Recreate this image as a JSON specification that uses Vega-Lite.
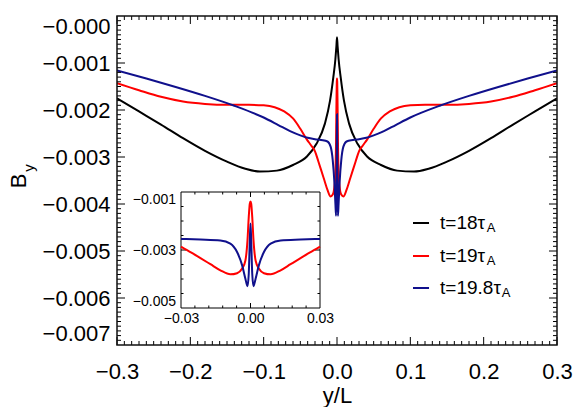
{
  "$schema": "https://vega.github.io/schema/vega-lite/v6.json",
  "width": 440,
  "height": 329,
  "autosize": "none",
  "padding": {"left": 117, "top": 16, "right": 24, "bottom": 62},
  "background": "white",
  "config": {
    "view": {"stroke": null},
    "font": "Liberation Sans",
    "axis": {"grid": false, "domain": false, "ticks": false, "tickSize": 0, "labelColor": "black", "titleColor": "black", "labelFont": "Liberation Sans", "titleFont": "Liberation Sans", "titleFontWeight": "normal", "labelOverlap": false}
  },
  "datasets": {
    "curves": [
      {"s": "18", "x": -0.3, "y": -0.00175}, {"s": "18", "x": -0.27, "y": -0.00203}, {"s": "18", "x": -0.24, "y": -0.00231}, {"s": "18", "x": -0.21, "y": -0.0026}, {"s": "18", "x": -0.18, "y": -0.00287}, {"s": "18", "x": -0.15, "y": -0.0031}, {"s": "18", "x": -0.125, "y": -0.00325}, {"s": "18", "x": -0.105, "y": -0.00331}, {"s": "18", "x": -0.082, "y": -0.00329}, {"s": "18", "x": -0.06, "y": -0.00317}, {"s": "18", "x": -0.041, "y": -0.00299}, {"s": "18", "x": -0.028, "y": -0.00272}, {"s": "18", "x": -0.0165, "y": -0.00229}, {"s": "18", "x": -0.0095, "y": -0.0018}, {"s": "18", "x": -0.005, "y": -0.0013}, {"s": "18", "x": -0.0022, "y": -0.00092}, {"s": "18", "x": -0.0008, "y": -0.00064}, {"s": "18", "x": 0, "y": -0.00045},
      {"s": "18", "x": 0.0008, "y": -0.00064}, {"s": "18", "x": 0.0022, "y": -0.00092}, {"s": "18", "x": 0.005, "y": -0.0013}, {"s": "18", "x": 0.0095, "y": -0.0018}, {"s": "18", "x": 0.0165, "y": -0.00229}, {"s": "18", "x": 0.028, "y": -0.00272}, {"s": "18", "x": 0.041, "y": -0.00299}, {"s": "18", "x": 0.06, "y": -0.00317}, {"s": "18", "x": 0.082, "y": -0.00329}, {"s": "18", "x": 0.105, "y": -0.00331}, {"s": "18", "x": 0.125, "y": -0.00325}, {"s": "18", "x": 0.15, "y": -0.0031}, {"s": "18", "x": 0.18, "y": -0.00287}, {"s": "18", "x": 0.21, "y": -0.0026}, {"s": "18", "x": 0.24, "y": -0.00231}, {"s": "18", "x": 0.27, "y": -0.00203}, {"s": "18", "x": 0.3, "y": -0.00175},
      {"s": "19", "x": -0.3, "y": -0.00143}, {"s": "19", "x": -0.27, "y": -0.00158}, {"s": "19", "x": -0.24, "y": -0.00172}, {"s": "19", "x": -0.21, "y": -0.00182}, {"s": "19", "x": -0.18, "y": -0.00187}, {"s": "19", "x": -0.15, "y": -0.00189}, {"s": "19", "x": -0.12, "y": -0.00189}, {"s": "19", "x": -0.1, "y": -0.0019}, {"s": "19", "x": -0.085, "y": -0.00194}, {"s": "19", "x": -0.072, "y": -0.00203}, {"s": "19", "x": -0.06, "y": -0.00218}, {"s": "19", "x": -0.05, "y": -0.0024}, {"s": "19", "x": -0.041, "y": -0.00263}, {"s": "19", "x": -0.035, "y": -0.00276}, {"s": "19", "x": -0.03, "y": -0.00288}, {"s": "19", "x": -0.0255, "y": -0.00309}, {"s": "19", "x": -0.0216, "y": -0.00328}, {"s": "19", "x": -0.0173, "y": -0.00349}, {"s": "19", "x": -0.013, "y": -0.0037}, {"s": "19", "x": -0.0087, "y": -0.00384}, {"s": "19", "x": -0.0058, "y": -0.0038}, {"s": "19", "x": -0.0036, "y": -0.00364}, {"s": "19", "x": -0.0022, "y": -0.00336}, {"s": "19", "x": -0.0013, "y": -0.00267}, {"s": "19", "x": -0.00075, "y": -0.00186}, {"s": "19", "x": -0.0003, "y": -0.0014}, {"s": "19", "x": 0, "y": -0.00133},
      {"s": "19", "x": 0.0003, "y": -0.0014}, {"s": "19", "x": 0.00075, "y": -0.00186}, {"s": "19", "x": 0.0013, "y": -0.00267}, {"s": "19", "x": 0.0022, "y": -0.00336}, {"s": "19", "x": 0.0036, "y": -0.00364}, {"s": "19", "x": 0.0058, "y": -0.0038}, {"s": "19", "x": 0.0087, "y": -0.00384}, {"s": "19", "x": 0.013, "y": -0.0037}, {"s": "19", "x": 0.0173, "y": -0.00349}, {"s": "19", "x": 0.0216, "y": -0.00328}, {"s": "19", "x": 0.0255, "y": -0.00309}, {"s": "19", "x": 0.03, "y": -0.00288}, {"s": "19", "x": 0.035, "y": -0.00276}, {"s": "19", "x": 0.041, "y": -0.00263}, {"s": "19", "x": 0.05, "y": -0.0024}, {"s": "19", "x": 0.06, "y": -0.00218}, {"s": "19", "x": 0.072, "y": -0.00203}, {"s": "19", "x": 0.085, "y": -0.00194}, {"s": "19", "x": 0.1, "y": -0.0019}, {"s": "19", "x": 0.12, "y": -0.00189}, {"s": "19", "x": 0.15, "y": -0.00189}, {"s": "19", "x": 0.18, "y": -0.00187}, {"s": "19", "x": 0.21, "y": -0.00182}, {"s": "19", "x": 0.24, "y": -0.00172}, {"s": "19", "x": 0.27, "y": -0.00158}, {"s": "19", "x": 0.3, "y": -0.00143},
      {"s": "19.8", "x": -0.3, "y": -0.00116}, {"s": "19.8", "x": -0.26, "y": -0.00133}, {"s": "19.8", "x": -0.22, "y": -0.00151}, {"s": "19.8", "x": -0.18, "y": -0.0017}, {"s": "19.8", "x": -0.14, "y": -0.00191}, {"s": "19.8", "x": -0.1, "y": -0.00216}, {"s": "19.8", "x": -0.08, "y": -0.00232}, {"s": "19.8", "x": -0.064, "y": -0.00245}, {"s": "19.8", "x": -0.05, "y": -0.00254}, {"s": "19.8", "x": -0.04, "y": -0.00259}, {"s": "19.8", "x": -0.03, "y": -0.00262}, {"s": "19.8", "x": -0.0216, "y": -0.00264}, {"s": "19.8", "x": -0.013, "y": -0.00267}, {"s": "19.8", "x": -0.0087, "y": -0.00278}, {"s": "19.8", "x": -0.0058, "y": -0.00307}, {"s": "19.8", "x": -0.0036, "y": -0.00353}, {"s": "19.8", "x": -0.0022, "y": -0.00399}, {"s": "19.8", "x": -0.0013, "y": -0.00425}, {"s": "19.8", "x": -0.00075, "y": -0.00382}, {"s": "19.8", "x": -0.0003, "y": -0.00267}, {"s": "19.8", "x": 0, "y": -0.00209},
      {"s": "19.8", "x": 0.0003, "y": -0.00267}, {"s": "19.8", "x": 0.00075, "y": -0.00382}, {"s": "19.8", "x": 0.0013, "y": -0.00425}, {"s": "19.8", "x": 0.0022, "y": -0.00399}, {"s": "19.8", "x": 0.0036, "y": -0.00353}, {"s": "19.8", "x": 0.0058, "y": -0.00307}, {"s": "19.8", "x": 0.0087, "y": -0.00278}, {"s": "19.8", "x": 0.013, "y": -0.00267}, {"s": "19.8", "x": 0.0216, "y": -0.00264}, {"s": "19.8", "x": 0.03, "y": -0.00262}, {"s": "19.8", "x": 0.04, "y": -0.00259}, {"s": "19.8", "x": 0.05, "y": -0.00254}, {"s": "19.8", "x": 0.064, "y": -0.00245}, {"s": "19.8", "x": 0.08, "y": -0.00232}, {"s": "19.8", "x": 0.1, "y": -0.00216}, {"s": "19.8", "x": 0.14, "y": -0.00191}, {"s": "19.8", "x": 0.18, "y": -0.0017}, {"s": "19.8", "x": 0.22, "y": -0.00151}, {"s": "19.8", "x": 0.26, "y": -0.00133}, {"s": "19.8", "x": 0.3, "y": -0.00116}
    ],
    "legend": [
      {"s": "18", "label": "t=18τ", "x": 0.1036, "x2": 0.1255, "tx": 0.1405, "y": -0.004404, "sx": 0.2041, "sy": -0.004518},
      {"s": "19", "label": "t=19τ", "x": 0.1036, "x2": 0.1255, "tx": 0.1405, "y": -0.005106, "sx": 0.2041, "sy": -0.00522},
      {"s": "19.8", "label": "t=19.8τ", "x": 0.1036, "x2": 0.1255, "tx": 0.1405, "y": -0.005787, "sx": 0.2246, "sy": -0.0059}
    ],
    "ysub": [{"t": "y", "x": -0.42, "y": -0.003234}],
    "mainframe": [{"x": -0.3, "x2": 0.3, "y": -0.007, "y2": 0}],
    "frame": [{"x": -0.03, "x2": 0.03, "y": -0.005, "y2": -0.001}],
    "xmaj": [{"v": -0.3}, {"v": -0.2}, {"v": -0.1}, {"v": 0}, {"v": 0.1}, {"v": 0.2}, {"v": 0.3}],
    "xmin": [{"v": -0.29}, {"v": -0.28}, {"v": -0.27}, {"v": -0.26}, {"v": -0.25}, {"v": -0.24}, {"v": -0.23}, {"v": -0.22}, {"v": -0.21}, {"v": -0.19}, {"v": -0.18}, {"v": -0.17}, {"v": -0.16}, {"v": -0.15}, {"v": -0.14}, {"v": -0.13}, {"v": -0.12}, {"v": -0.11}, {"v": -0.09}, {"v": -0.08}, {"v": -0.07}, {"v": -0.06}, {"v": -0.05}, {"v": -0.04}, {"v": -0.03}, {"v": -0.02}, {"v": -0.01}, {"v": 0.01}, {"v": 0.02}, {"v": 0.03}, {"v": 0.04}, {"v": 0.05}, {"v": 0.06}, {"v": 0.07}, {"v": 0.08}, {"v": 0.09}, {"v": 0.11}, {"v": 0.12}, {"v": 0.13}, {"v": 0.14}, {"v": 0.15}, {"v": 0.16}, {"v": 0.17}, {"v": 0.18}, {"v": 0.19}, {"v": 0.21}, {"v": 0.22}, {"v": 0.23}, {"v": 0.24}, {"v": 0.25}, {"v": 0.26}, {"v": 0.27}, {"v": 0.28}, {"v": 0.29}],
    "ymaj": [{"v": -0.006}, {"v": -0.005}, {"v": -0.004}, {"v": -0.003}, {"v": -0.002}, {"v": -0.001}],
    "ymin": [{"v": -0.0069}, {"v": -0.0068}, {"v": -0.0067}, {"v": -0.0066}, {"v": -0.0065}, {"v": -0.0064}, {"v": -0.0063}, {"v": -0.0062}, {"v": -0.0061}, {"v": -0.0059}, {"v": -0.0058}, {"v": -0.0057}, {"v": -0.0056}, {"v": -0.0055}, {"v": -0.0054}, {"v": -0.0053}, {"v": -0.0052}, {"v": -0.0051}, {"v": -0.0049}, {"v": -0.0048}, {"v": -0.0047}, {"v": -0.0046}, {"v": -0.0045}, {"v": -0.0044}, {"v": -0.0043}, {"v": -0.0042}, {"v": -0.0041}, {"v": -0.0039}, {"v": -0.0038}, {"v": -0.0037}, {"v": -0.0036}, {"v": -0.0035}, {"v": -0.0034}, {"v": -0.0033}, {"v": -0.0032}, {"v": -0.0031}, {"v": -0.0029}, {"v": -0.0028}, {"v": -0.0027}, {"v": -0.0026}, {"v": -0.0025}, {"v": -0.0024}, {"v": -0.0023}, {"v": -0.0022}, {"v": -0.0021}, {"v": -0.0019}, {"v": -0.0018}, {"v": -0.0017}, {"v": -0.0016}, {"v": -0.0015}, {"v": -0.0014}, {"v": -0.0013}, {"v": -0.0012}, {"v": -0.0011}, {"v": -0.0009}, {"v": -0.0008}, {"v": -0.0007}, {"v": -0.0006}, {"v": -0.0005}, {"v": -0.0004}, {"v": -0.0003}, {"v": -0.0002}, {"v": -0.0001}],
    "ixmaj": [{"v": 0}],
    "ixmin": [{"v": -0.024}, {"v": -0.018}, {"v": -0.012}, {"v": -0.006}, {"v": 0.006}, {"v": 0.012}, {"v": 0.018}, {"v": 0.024}],
    "iymaj": [{"v": -0.003}],
    "iymin": [{"v": -0.0045}, {"v": -0.004}, {"v": -0.0035}, {"v": -0.0025}, {"v": -0.002}, {"v": -0.0015}]
  },
  "layer": [
    {
      "data": {"name": "curves"},
      "mark": {"type": "line", "interpolate": "monotone", "clip": true},
      "encoding": {
        "x": {"field": "x", "type": "quantitative", "scale": {"domain": [-0.3, 0.3], "nice": false, "zero": false},
          "axis": {"orient": "bottom", "title": "y/L", "titleFontSize": 22, "titlePadding": 3, "labelFontSize": 22, "labelPadding": 16, "labelFlush": false,
            "values": [-0.3, -0.2, -0.1, 0, 0.1, 0.2, 0.3], "format": ".1f"}},
        "y": {"field": "y", "type": "quantitative", "scale": {"domain": [-0.007, 0], "nice": false, "zero": false},
          "axis": {"orient": "left", "title": "B", "titleFontSize": 22, "titlePadding": 12, "labelFontSize": 22, "labelPadding": 7, "labelFlush": true,
            "values": [-0.007, -0.006, -0.005, -0.004, -0.003, -0.002, -0.001, 0],
            "labelExpr": "datum.value == 0 ? '−0.000' : format(datum.value, '.3f')"}},
        "color": {"field": "s", "type": "nominal", "scale": {"domain": ["18", "19", "19.8"], "range": ["#000000", "#ff0000", "#10108c"]}, "legend": null},
        "strokeWidth": {"field": "s", "type": "nominal", "scale": {"domain": ["18", "19", "19.8"], "range": [2, 2, 1.5]}, "legend": null}
      }
    },
    {
      "data": {"name": "xmaj"},
      "mark": {"type": "rule", "color": "black", "strokeWidth": 1},
      "encoding": {
        "x": {"field": "v", "type": "quantitative", "scale": {"domain": [-0.3, 0.3], "nice": false, "zero": false}, "axis": null},
        "y": {"datum": -0.007, "type": "quantitative", "scale": {"domain": [-0.007, 0], "nice": false, "zero": false}, "axis": null},
        "y2": {"datum": -0.00683}
      }
    },
    {
      "data": {"name": "xmaj"},
      "mark": {"type": "rule", "color": "black", "strokeWidth": 1},
      "encoding": {
        "x": {"field": "v", "type": "quantitative", "scale": {"domain": [-0.3, 0.3], "nice": false, "zero": false}, "axis": null},
        "y": {"datum": 0, "type": "quantitative", "scale": {"domain": [-0.007, 0], "nice": false, "zero": false}, "axis": null},
        "y2": {"datum": -0.00017}
      }
    },
    {
      "data": {"name": "xmin"},
      "mark": {"type": "rule", "color": "black", "strokeWidth": 1},
      "encoding": {
        "x": {"field": "v", "type": "quantitative", "scale": {"domain": [-0.3, 0.3], "nice": false, "zero": false}, "axis": null},
        "y": {"datum": -0.007, "type": "quantitative", "scale": {"domain": [-0.007, 0], "nice": false, "zero": false}, "axis": null},
        "y2": {"datum": -0.006915}
      }
    },
    {
      "data": {"name": "xmin"},
      "mark": {"type": "rule", "color": "black", "strokeWidth": 1},
      "encoding": {
        "x": {"field": "v", "type": "quantitative", "scale": {"domain": [-0.3, 0.3], "nice": false, "zero": false}, "axis": null},
        "y": {"datum": 0, "type": "quantitative", "scale": {"domain": [-0.007, 0], "nice": false, "zero": false}, "axis": null},
        "y2": {"datum": -0.000085}
      }
    },
    {
      "data": {"name": "ymaj"},
      "mark": {"type": "rule", "color": "black", "strokeWidth": 1},
      "encoding": {
        "y": {"field": "v", "type": "quantitative", "scale": {"domain": [-0.007, 0], "nice": false, "zero": false}, "axis": null},
        "x": {"datum": -0.3, "type": "quantitative", "scale": {"domain": [-0.3, 0.3], "nice": false, "zero": false}, "axis": null},
        "x2": {"datum": -0.28909}
      }
    },
    {
      "data": {"name": "ymaj"},
      "mark": {"type": "rule", "color": "black", "strokeWidth": 1},
      "encoding": {
        "y": {"field": "v", "type": "quantitative", "scale": {"domain": [-0.007, 0], "nice": false, "zero": false}, "axis": null},
        "x": {"datum": 0.3, "type": "quantitative", "scale": {"domain": [-0.3, 0.3], "nice": false, "zero": false}, "axis": null},
        "x2": {"datum": 0.28909}
      }
    },
    {
      "data": {"name": "ymin"},
      "mark": {"type": "rule", "color": "black", "strokeWidth": 1},
      "encoding": {
        "y": {"field": "v", "type": "quantitative", "scale": {"domain": [-0.007, 0], "nice": false, "zero": false}, "axis": null},
        "x": {"datum": -0.3, "type": "quantitative", "scale": {"domain": [-0.3, 0.3], "nice": false, "zero": false}, "axis": null},
        "x2": {"datum": -0.294545}
      }
    },
    {
      "data": {"name": "ymin"},
      "mark": {"type": "rule", "color": "black", "strokeWidth": 1},
      "encoding": {
        "y": {"field": "v", "type": "quantitative", "scale": {"domain": [-0.007, 0], "nice": false, "zero": false}, "axis": null},
        "x": {"datum": 0.3, "type": "quantitative", "scale": {"domain": [-0.3, 0.3], "nice": false, "zero": false}, "axis": null},
        "x2": {"datum": 0.294545}
      }
    },
    {
      "data": {"name": "legend"},
      "mark": {"type": "rule"},
      "encoding": {
        "x": {"field": "x", "type": "quantitative", "scale": {"domain": [-0.3, 0.3], "nice": false, "zero": false}, "axis": null},
        "x2": {"field": "x2"},
        "y": {"field": "y", "type": "quantitative", "scale": {"domain": [-0.007, 0], "nice": false, "zero": false}, "axis": null},
        "color": {"field": "s", "type": "nominal", "scale": {"domain": ["18", "19", "19.8"], "range": ["#000000", "#ff0000", "#10108c"]}, "legend": null},
        "strokeWidth": {"field": "s", "type": "nominal", "scale": {"domain": ["18", "19", "19.8"], "range": [2, 2, 1.5]}, "legend": null}
      }
    },
    {
      "data": {"name": "legend"},
      "mark": {"type": "text", "align": "left", "baseline": "middle", "fontSize": 19, "font": "Liberation Sans", "color": "black"},
      "encoding": {
        "x": {"field": "tx", "type": "quantitative", "scale": {"domain": [-0.3, 0.3], "nice": false, "zero": false}, "axis": null},
        "y": {"field": "y", "type": "quantitative", "scale": {"domain": [-0.007, 0], "nice": false, "zero": false}, "axis": null},
        "text": {"field": "label"}
      }
    },
    {
      "data": {"name": "legend"},
      "mark": {"type": "text", "align": "left", "baseline": "middle", "fontSize": 13, "font": "Liberation Sans", "color": "black", "text": "A"},
      "encoding": {
        "x": {"field": "sx", "type": "quantitative", "scale": {"domain": [-0.3, 0.3], "nice": false, "zero": false}, "axis": null},
        "y": {"field": "sy", "type": "quantitative", "scale": {"domain": [-0.007, 0], "nice": false, "zero": false}, "axis": null}
      }
    },
    {
      "data": {"name": "ysub"},
      "mark": {"type": "text", "align": "center", "baseline": "middle", "fontSize": 15, "font": "Liberation Sans", "color": "black", "angle": 270},
      "encoding": {
        "x": {"field": "x", "type": "quantitative", "scale": {"domain": [-0.3, 0.3], "nice": false, "zero": false}, "axis": null},
        "y": {"field": "y", "type": "quantitative", "scale": {"domain": [-0.007, 0], "nice": false, "zero": false}, "axis": null},
        "text": {"field": "t"}
      }
    },
    {
      "data": {"name": "mainframe"},
      "mark": {"type": "rect", "fill": null, "fillOpacity": 0, "stroke": "#111111", "strokeWidth": 1.5},
      "encoding": {
        "x": {"field": "x", "type": "quantitative", "scale": {"domain": [-0.3, 0.3], "nice": false, "zero": false}, "axis": null},
        "x2": {"field": "x2"},
        "y": {"field": "y", "type": "quantitative", "scale": {"domain": [-0.007, 0], "nice": false, "zero": false}, "axis": null},
        "y2": {"field": "y2"}
      }
    },
    {
      "data": {"name": "frame"},
      "mark": {"type": "rect", "fill": "white", "stroke": "black", "strokeWidth": 1},
      "encoding": {
        "x": {"field": "x", "type": "quantitative", "scale": {"domain": [-0.03, 0.03], "range": [64, 203], "nice": false, "zero": false},
          "axis": {"orient": "bottom", "offset": -37, "title": null, "labelFontSize": 14, "labelPadding": 3.5, "labelFlush": false,
            "values": [-0.03, 0, 0.03], "format": ".2f"}},
        "x2": {"field": "x2"},
        "y": {"field": "y", "type": "quantitative", "scale": {"domain": [-0.005, -0.001], "range": [292, 176], "nice": false, "zero": false},
          "axis": {"orient": "left", "offset": -64, "title": null, "labelFontSize": 14, "labelPadding": 5.5, "labelFlush": true,
            "values": [-0.005, -0.003, -0.001], "format": ".3f"}},
        "y2": {"field": "y2"}
      }
    },
    {
      "data": {"name": "ixmaj"},
      "mark": {"type": "rule", "color": "black", "strokeWidth": 1},
      "encoding": {
        "x": {"field": "v", "type": "quantitative", "scale": {"domain": [-0.03, 0.03], "range": [64, 203], "nice": false, "zero": false}, "axis": null},
        "y": {"datum": -0.005, "type": "quantitative", "scale": {"domain": [-0.005, -0.001], "range": [292, 176], "nice": false, "zero": false}, "axis": null},
        "y2": {"datum": -0.004828}
      }
    },
    {
      "data": {"name": "ixmaj"},
      "mark": {"type": "rule", "color": "black", "strokeWidth": 1},
      "encoding": {
        "x": {"field": "v", "type": "quantitative", "scale": {"domain": [-0.03, 0.03], "range": [64, 203], "nice": false, "zero": false}, "axis": null},
        "y": {"datum": -0.001, "type": "quantitative", "scale": {"domain": [-0.005, -0.001], "range": [292, 176], "nice": false, "zero": false}, "axis": null},
        "y2": {"datum": -0.001172}
      }
    },
    {
      "data": {"name": "ixmin"},
      "mark": {"type": "rule", "color": "black", "strokeWidth": 1},
      "encoding": {
        "x": {"field": "v", "type": "quantitative", "scale": {"domain": [-0.03, 0.03], "range": [64, 203], "nice": false, "zero": false}, "axis": null},
        "y": {"datum": -0.005, "type": "quantitative", "scale": {"domain": [-0.005, -0.001], "range": [292, 176], "nice": false, "zero": false}, "axis": null},
        "y2": {"datum": -0.004914}
      }
    },
    {
      "data": {"name": "ixmin"},
      "mark": {"type": "rule", "color": "black", "strokeWidth": 1},
      "encoding": {
        "x": {"field": "v", "type": "quantitative", "scale": {"domain": [-0.03, 0.03], "range": [64, 203], "nice": false, "zero": false}, "axis": null},
        "y": {"datum": -0.001, "type": "quantitative", "scale": {"domain": [-0.005, -0.001], "range": [292, 176], "nice": false, "zero": false}, "axis": null},
        "y2": {"datum": -0.001086}
      }
    },
    {
      "data": {"name": "iymaj"},
      "mark": {"type": "rule", "color": "black", "strokeWidth": 1},
      "encoding": {
        "y": {"field": "v", "type": "quantitative", "scale": {"domain": [-0.005, -0.001], "range": [292, 176], "nice": false, "zero": false}, "axis": null},
        "x": {"datum": -0.03, "type": "quantitative", "scale": {"domain": [-0.03, 0.03], "range": [64, 203], "nice": false, "zero": false}, "axis": null},
        "x2": {"datum": -0.02784}
      }
    },
    {
      "data": {"name": "iymaj"},
      "mark": {"type": "rule", "color": "black", "strokeWidth": 1},
      "encoding": {
        "y": {"field": "v", "type": "quantitative", "scale": {"domain": [-0.005, -0.001], "range": [292, 176], "nice": false, "zero": false}, "axis": null},
        "x": {"datum": 0.03, "type": "quantitative", "scale": {"domain": [-0.03, 0.03], "range": [64, 203], "nice": false, "zero": false}, "axis": null},
        "x2": {"datum": 0.02784}
      }
    },
    {
      "data": {"name": "iymin"},
      "mark": {"type": "rule", "color": "black", "strokeWidth": 1},
      "encoding": {
        "y": {"field": "v", "type": "quantitative", "scale": {"domain": [-0.005, -0.001], "range": [292, 176], "nice": false, "zero": false}, "axis": null},
        "x": {"datum": -0.03, "type": "quantitative", "scale": {"domain": [-0.03, 0.03], "range": [64, 203], "nice": false, "zero": false}, "axis": null},
        "x2": {"datum": -0.02892}
      }
    },
    {
      "data": {"name": "iymin"},
      "mark": {"type": "rule", "color": "black", "strokeWidth": 1},
      "encoding": {
        "y": {"field": "v", "type": "quantitative", "scale": {"domain": [-0.005, -0.001], "range": [292, 176], "nice": false, "zero": false}, "axis": null},
        "x": {"datum": 0.03, "type": "quantitative", "scale": {"domain": [-0.03, 0.03], "range": [64, 203], "nice": false, "zero": false}, "axis": null},
        "x2": {"datum": 0.02892}
      }
    },
    {
      "data": {"name": "curves"},
      "transform": [{"filter": "datum.s != '18' && abs(datum.x) <= 0.0301"}],
      "mark": {"type": "line", "interpolate": "monotone"},
      "encoding": {
        "x": {"field": "x", "type": "quantitative", "scale": {"domain": [-0.03, 0.03], "range": [64, 203], "nice": false, "zero": false}, "axis": null},
        "y": {"field": "y", "type": "quantitative", "scale": {"domain": [-0.005, -0.001], "range": [292, 176], "nice": false, "zero": false}, "axis": null},
        "color": {"field": "s", "type": "nominal", "scale": {"domain": ["18", "19", "19.8"], "range": ["#000000", "#ff0000", "#10108c"]}, "legend": null},
        "strokeWidth": {"field": "s", "type": "nominal", "scale": {"domain": ["18", "19", "19.8"], "range": [2, 2, 1.5]}, "legend": null}
      }
    }
  ],
  "resolve": {"scale": {"x": "independent", "y": "independent"}, "axis": {"x": "independent", "y": "independent"}}
}
